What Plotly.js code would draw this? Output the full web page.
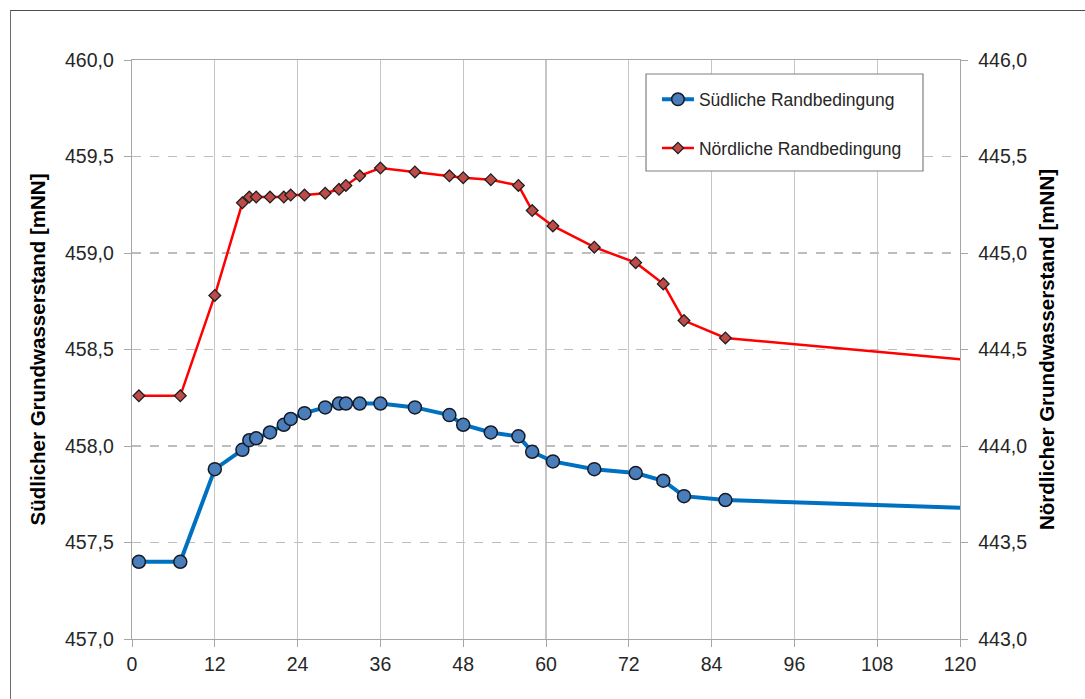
<!DOCTYPE html>
<html>
<head>
<meta charset="utf-8">
<script src="https://cdn.plot.ly/plotly-3.0.1.min.js"></script>
<style>
  html, body { margin: 0; padding: 0; background: #ffffff; }
  #frame { position: absolute; left: 10px; top: 10px; width: 1075px; height: 689px;
           border-top: 1.5px solid #4d4d4d; border-left: 1.5px solid #6d6d6d; pointer-events: none; }
  #chart { position: absolute; left: 0; top: 0; width: 1085px; height: 699px; }
</style>
</head>
<body>
<div id="frame"></div>
<div id="chart"></div>
<script>
// Time axis (shared by both series)
const days = [1, 7, 12, 16, 17, 18, 20, 22, 23, 25, 28, 30, 31, 33, 36, 41, 46, 48, 52, 56, 58, 61, 67, 73, 77, 80, 86, 120];

// Südliche Randbedingung (left axis, mNN)
const suedValues = [457.40, 457.40, 457.88, 457.98, 458.03, 458.04, 458.07, 458.11, 458.14, 458.17, 458.20, 458.22, 458.22, 458.22, 458.22, 458.20, 458.16, 458.11, 458.07, 458.05, 457.97, 457.92, 457.88, 457.86, 457.82, 457.74, 457.72, 457.68];

// Nördliche Randbedingung (right axis, mNN)
const noerdValues = [444.26, 444.26, 444.78, 445.26, 445.29, 445.29, 445.29, 445.29, 445.30, 445.30, 445.31, 445.33, 445.35, 445.40, 445.44, 445.42, 445.40, 445.39, 445.38, 445.35, 445.22, 445.14, 445.03, 444.95, 444.84, 444.65, 444.56, 444.45];

// Which points carry a marker (last point is a line end only)
const markerShown = days.map((d, i) => i < days.length - 1);

const seriesNames = ["Südliche Randbedingung", "Nördliche Randbedingung"];
const axisTitles = ["Südlicher Grundwasserstand [mNN]", "Nördlicher Grundwasserstand [mNN]"];
const xTicks = [0, 12, 24, 36, 48, 60, 72, 84, 96, 108, 120];
const yLeftTicks = [457.0, 457.5, 458.0, 458.5, 459.0, 459.5, 460.0];
const yRightTicks = [443.0, 443.5, 444.0, 444.5, 445.0, 445.5, 446.0];

const FONT = "Liberation Sans, Arial, sans-serif";

const traceSued = {
  x: days, y: suedValues, name: seriesNames[0], type: "scatter", mode: "lines+markers",
  line: { color: "#0070C0", width: 4 },
  marker: { symbol: "circle", size: markerShown.map(s => s ? 13 : 0), opacity: 1,
            color: "#4A7EBB", line: { color: "#151a26", width: 1.5 } },
  yaxis: "y", legendgroup: "a"
};
const traceNoerd = {
  x: days, y: noerdValues, name: seriesNames[1], type: "scatter", mode: "lines+markers",
  line: { color: "#FF0000", width: 2.5 },
  marker: { symbol: "diamond", size: markerShown.map(s => s ? 9 : 0), opacity: 1,
            color: "#BE4B48", line: { color: "#202020", width: 1.3 } },
  yaxis: "y2", legendgroup: "b"
};

const layout = {
  width: 1085, height: 699,
  margin: { l: 132, r: 125, t: 60, b: 60 },
  paper_bgcolor: "rgba(0,0,0,0)", plot_bgcolor: "rgba(0,0,0,0)",
  separators: ", ",
  font: { family: FONT, color: "#262626", size: 20 },
  showlegend: true,
  legend: {
    x: 0.634, y: 0.963, xanchor: "left", yanchor: "top",
    bgcolor: "rgba(0,0,0,0)", borderwidth: 0,
    font: { family: FONT, size: 17.5, color: "#262626" },
    tracegroupgap: 23, itemwidth: 32
  },
  shapes: [{
    type: "rect", xref: "paper", yref: "paper", layer: "above",
    x0: 0.6208, x1: 0.9553, y0: 0.8083, y1: 0.9758,
    fillcolor: "#ffffff", line: { color: "#808080", width: 1.2 }
  }],
  xaxis: {
    range: [0, 120], tickmode: "array", tickvals: xTicks, ticktext: xTicks.map(String),
    showgrid: true, gridcolor: "#c6c6c6", gridwidth: 1.3,
    showline: true, linecolor: "#a6a6a6", linewidth: 1.3, mirror: true,
    ticks: "outside", ticklen: 7, tickcolor: "#a6a6a6",
    zeroline: false, tickfont: { size: 19.5, color: "#262626" }
  },
  yaxis: {
    range: [457, 460], tickmode: "array", tickvals: yLeftTicks,
    ticktext: yLeftTicks.map(v => v.toFixed(1).replace(".", ",")),
    showgrid: true, gridcolor: "#bdbdbd", gridwidth: 1.2, griddash: "dash",
    showline: true, linecolor: "#a6a6a6", linewidth: 1.3,
    ticks: "outside", ticklen: 7, tickcolor: "#a6a6a6", ticklabelstandoff: 6,
    zeroline: false, tickfont: { size: 19.5, color: "#262626" },
    title: { text: axisTitles[0], font: { size: 20.5, color: "#000000", family: FONT, weight: "bold" }, standoff: 13 }
  },
  yaxis2: {
    range: [443, 446], tickmode: "array", tickvals: yRightTicks,
    ticktext: yRightTicks.map(v => v.toFixed(1).replace(".", ",")),
    overlaying: "y", side: "right", showgrid: false,
    showline: true, linecolor: "#a6a6a6", linewidth: 1.3,
    ticks: "outside", ticklen: 7, tickcolor: "#a6a6a6", ticklabelstandoff: 6,
    zeroline: false, tickfont: { size: 19.5, color: "#262626" },
    title: { text: axisTitles[1], font: { size: 20.5, color: "#000000", family: FONT, weight: "bold" }, standoff: 13 }
  }
};

Plotly.newPlot("chart", [traceSued, traceNoerd], layout, { staticPlot: true, displayModeBar: false });
</script>
</body>
</html>
